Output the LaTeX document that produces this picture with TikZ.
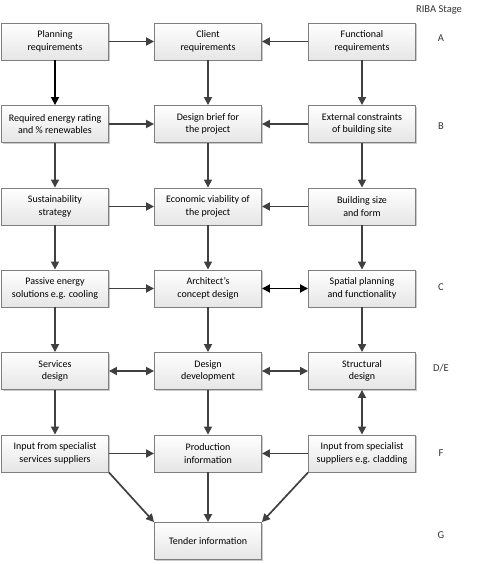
\documentclass[tikz,border=0pt]{standalone}
\usepackage{fontspec}
\setmainfont{Carlito}
\usetikzlibrary{shadows,arrows.meta}
\definecolor{linegrey}{HTML}{404040}
\definecolor{boxline}{HTML}{7F7F7F}
\tikzset{
    stagebox/.style={draw=boxline, line width=0.9pt, top color=white, bottom color=black!10,
        minimum width=107pt, minimum height=37pt, align=center, inner sep=1pt,
        font=\fontsize{10}{12.5}\selectfont,
        drop shadow={shadow xshift=1.2pt, shadow yshift=-1.2pt, fill=black!35, opacity=0.6}},
    flow/.style={draw=linegrey, line width=1.7pt, -{Triangle[length=8pt, width=8pt]}},
    twoway/.style={flow, {Triangle[length=8pt, width=8pt]}-{Triangle[length=8pt, width=8pt]}},
    strong/.style={draw=black, fill=black},
    stagelabel/.style={font=\fontsize{10.5}{12}\selectfont, text=black!80}
}
\begin{document}
\begin{tikzpicture}[x=1pt, y=-1pt]
    \useasboundingbox (0,0) rectangle (477,564);
    % boxes, one row per RIBA stage
    \node [stagebox] (plan)   at (55,41.5)  {Planning\\requirements};
    \node [stagebox] (client) at (208,41.5) {Client\\requirements};
    \node [stagebox] (func)   at (362,41.5) {Functional\\requirements};
    \node [stagebox] (energy) at (55,124)   {Required energy rating\\and \% renewables};
    \node [stagebox] (brief)  at (208,124)  {Design brief for\\the project};
    \node [stagebox] (site)   at (362,124)  {External constraints\\of building site};
    \node [stagebox] (sust)   at (55,206.5) {Sustainability\\strategy};
    \node [stagebox] (econ)   at (208,206.5) {Economic viability of\\the project};
    \node [stagebox] (size)   at (362,206.5) {Building size\\and form};
    \node [stagebox] (passive) at (55,288.5) {Passive energy\\solutions e.g. cooling};
    \node [stagebox] (concept) at (208,288.5) {Architect’s\\concept design};
    \node [stagebox] (spatial) at (362,288.5) {Spatial planning\\and functionality};
    \node [stagebox] (serv)   at (55,371)   {Services\\design};
    \node [stagebox] (devel)  at (208,371)  {Design\\development};
    \node [stagebox] (struct) at (362,371)  {Structural\\design};
    \node [stagebox] (servin) at (55,453.5) {Input from specialist\\services suppliers};
    \node [stagebox] (prod)   at (208,453.5) {Production\\information};
    \node [stagebox] (cladin) at (362,453.5) {Input from specialist\\suppliers e.g. cladding};
    \node [stagebox] (tender) at (208,541)  {Tender information};
    % stage letters
    \node [stagelabel] (riba) at (439,10) {RIBA Stage};
    \node [stagelabel] (stA) at (441,38)  {A};
    \node [stagelabel] (stB) at (441,126) {B};
    \node [stagelabel] (stC) at (441,287) {C};
    \node [stagelabel] (stDE) at (441,368) {D/E};
    \node [stagelabel] (stF) at (441,453) {F};
    \node [stagelabel] (stG) at (441,535) {G};
    % connectors
    \draw [flow] (plan) -- (client);
    \draw [flow] (func) -- (client);
    \draw [flow, strong] (plan) -- (energy);
    \draw [flow] (client) -- (brief);
    \draw [flow] (func) -- (site);
    \draw [flow] (energy) -- (brief);
    \draw [flow] (site) -- (brief);
    \draw [flow] (energy) -- (sust);
    \draw [flow] (brief) -- (econ);
    \draw [flow] (site) -- (size);
    \draw [flow] (sust) -- (econ);
    \draw [flow] (size) -- (econ);
    \draw [flow] (sust) -- (passive);
    \draw [flow] (econ) -- (concept);
    \draw [flow] (size) -- (spatial);
    \draw [flow] (passive) -- (concept);
    \draw [twoway, strong] (concept) -- (spatial);
    \draw [flow] (passive) -- (serv);
    \draw [flow] (concept) -- (devel);
    \draw [flow] (spatial) -- (struct);
    \draw [twoway] (serv) -- (devel);
    \draw [twoway] (devel) -- (struct);
    \draw [flow] (serv) -- (servin);
    \draw [flow] (devel) -- (prod);
    \draw [twoway] (struct) -- (cladin);
    \draw [flow] (servin) -- (prod);
    \draw [flow] (cladin) -- (prod);
    \draw [flow] (servin.south east) -- (tender.north west);
    \draw [flow] (prod) -- (tender);
    \draw [flow] (cladin.south west) -- (tender.north east);
\end{tikzpicture}
\end{document}
